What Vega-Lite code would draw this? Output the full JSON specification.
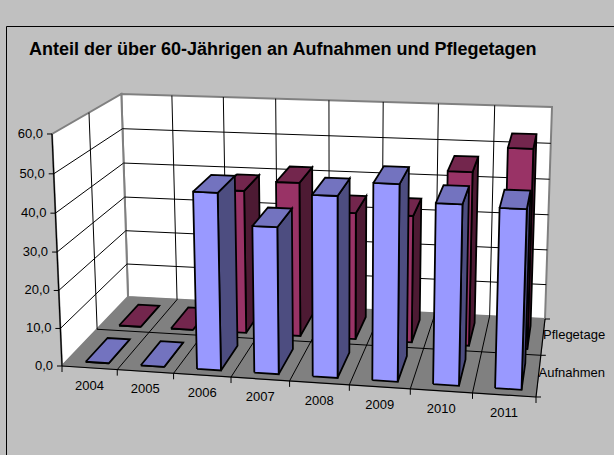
{
"$schema":"https://vega.github.io/schema/vega-lite/v6.json",
"width":614,"height":455,"padding":0,"autosize":"none","background":"#c0c0c0",
"view":{"stroke":null},
"title":{"text":"Anteil der über 60-Jährigen an Aufnahmen und Pflegetagen","anchor":"start","frame":"group","dx":29,"dy":73,"offset":0,"baseline":"alphabetic","font":"Liberation Sans","fontSize":18,"fontWeight":"bold","color":"#000000"},
"datasets":{
"bars":[
{"year":2004,"series":"Aufnahmen","value":0},{"year":2005,"series":"Aufnahmen","value":0},{"year":2006,"series":"Aufnahmen","value":46},{"year":2007,"series":"Aufnahmen","value":38},{"year":2008,"series":"Aufnahmen","value":46.5},{"year":2009,"series":"Aufnahmen","value":50.1},{"year":2010,"series":"Aufnahmen","value":45.8},{"year":2011,"series":"Aufnahmen","value":45.3},
{"year":2004,"series":"Pflegetage","value":0},{"year":2005,"series":"Pflegetage","value":0},{"year":2006,"series":"Pflegetage","value":39.5},{"year":2007,"series":"Pflegetage","value":42.3},{"year":2008,"series":"Pflegetage","value":34.8},{"year":2009,"series":"Pflegetage","value":34.7},{"year":2010,"series":"Pflegetage","value":47},{"year":2011,"series":"Pflegetage","value":53.7}],
"frame":[
{"part":"back","kind":"wall","n":0,"u":0,"w":2,"v":0},{"part":"back","kind":"wall","n":1,"u":8,"w":2,"v":0},{"part":"back","kind":"wall","n":2,"u":8,"w":2,"v":60},{"part":"back","kind":"wall","n":3,"u":0,"w":2,"v":60},{"part":"back","kind":"wall","n":4,"u":0,"w":2,"v":0},
{"part":"left","kind":"wall","n":0,"u":0,"w":0,"v":0},{"part":"left","kind":"wall","n":1,"u":0,"w":2,"v":0},{"part":"left","kind":"wall","n":2,"u":0,"w":2,"v":60},{"part":"left","kind":"wall","n":3,"u":0,"w":0,"v":60},{"part":"left","kind":"wall","n":4,"u":0,"w":0,"v":0},
{"part":"floor","kind":"floor","n":0,"u":0,"w":0,"v":0},{"part":"floor","kind":"floor","n":1,"u":8,"w":0,"v":0},{"part":"floor","kind":"floor","n":2,"u":8,"w":2,"v":0},{"part":"floor","kind":"floor","n":3,"u":0,"w":2,"v":0},{"part":"floor","kind":"floor","n":4,"u":0,"w":0,"v":0},
{"part":"h10","kind":"grid","n":0,"u":0,"w":0,"v":10},{"part":"h10","kind":"grid","n":1,"u":0,"w":2,"v":10},{"part":"h10","kind":"grid","n":2,"u":8,"w":2,"v":10},
{"part":"h20","kind":"grid","n":0,"u":0,"w":0,"v":20},{"part":"h20","kind":"grid","n":1,"u":0,"w":2,"v":20},{"part":"h20","kind":"grid","n":2,"u":8,"w":2,"v":20},
{"part":"h30","kind":"grid","n":0,"u":0,"w":0,"v":30},{"part":"h30","kind":"grid","n":1,"u":0,"w":2,"v":30},{"part":"h30","kind":"grid","n":2,"u":8,"w":2,"v":30},
{"part":"h40","kind":"grid","n":0,"u":0,"w":0,"v":40},{"part":"h40","kind":"grid","n":1,"u":0,"w":2,"v":40},{"part":"h40","kind":"grid","n":2,"u":8,"w":2,"v":40},
{"part":"h50","kind":"grid","n":0,"u":0,"w":0,"v":50},{"part":"h50","kind":"grid","n":1,"u":0,"w":2,"v":50},{"part":"h50","kind":"grid","n":2,"u":8,"w":2,"v":50},
{"part":"y1","kind":"grid","n":0,"u":1,"w":0,"v":0},{"part":"y1","kind":"grid","n":1,"u":1,"w":2,"v":0},{"part":"y1","kind":"grid","n":2,"u":1,"w":2,"v":60},
{"part":"y2","kind":"grid","n":0,"u":2,"w":0,"v":0},{"part":"y2","kind":"grid","n":1,"u":2,"w":2,"v":0},{"part":"y2","kind":"grid","n":2,"u":2,"w":2,"v":60},
{"part":"y3","kind":"grid","n":0,"u":3,"w":0,"v":0},{"part":"y3","kind":"grid","n":1,"u":3,"w":2,"v":0},{"part":"y3","kind":"grid","n":2,"u":3,"w":2,"v":60},
{"part":"y4","kind":"grid","n":0,"u":4,"w":0,"v":0},{"part":"y4","kind":"grid","n":1,"u":4,"w":2,"v":0},{"part":"y4","kind":"grid","n":2,"u":4,"w":2,"v":60},
{"part":"y5","kind":"grid","n":0,"u":5,"w":0,"v":0},{"part":"y5","kind":"grid","n":1,"u":5,"w":2,"v":0},{"part":"y5","kind":"grid","n":2,"u":5,"w":2,"v":60},
{"part":"y6","kind":"grid","n":0,"u":6,"w":0,"v":0},{"part":"y6","kind":"grid","n":1,"u":6,"w":2,"v":0},{"part":"y6","kind":"grid","n":2,"u":6,"w":2,"v":60},
{"part":"y7","kind":"grid","n":0,"u":7,"w":0,"v":0},{"part":"y7","kind":"grid","n":1,"u":7,"w":2,"v":0},{"part":"y7","kind":"grid","n":2,"u":7,"w":2,"v":60},
{"part":"mid","kind":"grid","n":0,"u":0,"w":1,"v":60},{"part":"mid","kind":"grid","n":1,"u":0,"w":1,"v":0},{"part":"mid","kind":"grid","n":2,"u":8,"w":1,"v":0},
{"part":"axv","kind":"axis","n":0,"u":0,"w":0,"v":0},{"part":"axv","kind":"axis","n":1,"u":0,"w":0,"v":60},
{"part":"axu","kind":"axis","n":0,"u":0,"w":0,"v":0},{"part":"axu","kind":"axis","n":1,"u":8,"w":0,"v":0},
{"part":"axw","kind":"axis","n":0,"u":8,"w":0,"v":0},{"part":"axw","kind":"axis","n":1,"u":8,"w":2,"v":0}],
"ticks":[
{"axis":"value","u":0,"w":0,"v":0},{"axis":"value","u":0,"w":0,"v":10},{"axis":"value","u":0,"w":0,"v":20},{"axis":"value","u":0,"w":0,"v":30},{"axis":"value","u":0,"w":0,"v":40},{"axis":"value","u":0,"w":0,"v":50},{"axis":"value","u":0,"w":0,"v":60},
{"axis":"year","u":0,"w":0,"v":0},{"axis":"year","u":1,"w":0,"v":0},{"axis":"year","u":2,"w":0,"v":0},{"axis":"year","u":3,"w":0,"v":0},{"axis":"year","u":4,"w":0,"v":0},{"axis":"year","u":5,"w":0,"v":0},{"axis":"year","u":6,"w":0,"v":0},{"axis":"year","u":7,"w":0,"v":0},{"axis":"year","u":8,"w":0,"v":0},
{"axis":"series","u":8,"w":0,"v":0},{"axis":"series","u":8,"w":1,"v":0},{"axis":"series","u":8,"w":2,"v":0}],
"labels":[
{"axis":"value","u":0,"w":0,"v":0,"label":"0,0"},{"axis":"value","u":0,"w":0,"v":10,"label":"10,0"},{"axis":"value","u":0,"w":0,"v":20,"label":"20,0"},{"axis":"value","u":0,"w":0,"v":30,"label":"30,0"},{"axis":"value","u":0,"w":0,"v":40,"label":"40,0"},{"axis":"value","u":0,"w":0,"v":50,"label":"50,0"},{"axis":"value","u":0,"w":0,"v":60,"label":"60,0"},
{"axis":"year","u":0.5,"w":0,"v":0,"label":"2004"},{"axis":"year","u":1.5,"w":0,"v":0,"label":"2005"},{"axis":"year","u":2.5,"w":0,"v":0,"label":"2006"},{"axis":"year","u":3.5,"w":0,"v":0,"label":"2007"},{"axis":"year","u":4.5,"w":0,"v":0,"label":"2008"},{"axis":"year","u":5.5,"w":0,"v":0,"label":"2009"},{"axis":"year","u":6.5,"w":0,"v":0,"label":"2010"},{"axis":"year","u":7.5,"w":0,"v":0,"label":"2011"},
{"axis":"series","u":8,"w":0.5,"v":0,"label":"Aufnahmen"},{"axis":"series","u":8,"w":1.5,"v":0,"label":"Pflegetage"}],
"border":[{"x0":6.5,"y0":26.5,"x1":6.5,"y1":455},{"x0":6.5,"y0":26.5,"x1":614,"y1":26.5}]
},
"encoding":{
"x":{"field":"px","type":"quantitative","scale":{"domain":[0,614],"zero":false,"nice":false},"axis":null},
"y":{"field":"py","type":"quantitative","scale":{"domain":[455,0],"zero":false,"nice":false},"axis":null}
},
"layer":[
{"data":{"name":"frame"},
"transform":[
{"calculate":"datum.u/8","as":"s"},{"calculate":"datum.w/2","as":"t"},{"calculate":"datum.v/60","as":"r"},
{"calculate":"1-0.07637*datum.s+0.13834*datum.t-0.03484*datum.r","as":"den"},
{"calculate":"(433.07*datum.s+83.71*datum.t-11.81*datum.r+62)/datum.den","as":"px"},
{"calculate":"(0.68*datum.s-27.91*datum.t+(-236.67+5.53*datum.s+2.27*datum.t)*datum.r+366)/datum.den","as":"py"}],
"layer":[
{"transform":[{"filter":"datum.kind=='wall'"}],"mark":{"type":"line","fill":"#ffffff","stroke":"#808080","strokeWidth":2,"strokeJoin":"miter"},"encoding":{"detail":{"field":"part"},"order":{"field":"n"}}},
{"transform":[{"filter":"datum.kind=='floor'"}],"mark":{"type":"line","fill":"#808080","stroke":"#808080","strokeWidth":1},"encoding":{"detail":{"field":"part"},"order":{"field":"n"}}},
{"transform":[{"filter":"datum.kind=='grid'"}],"mark":{"type":"line","stroke":"#000000","strokeWidth":1},"encoding":{"detail":{"field":"part"},"order":{"field":"n"}}},
{"transform":[{"filter":"datum.kind=='axis'"}],"mark":{"type":"line","stroke":"#000000","strokeWidth":1.2},"encoding":{"detail":{"field":"part"},"order":{"field":"n"}}}
]},
{"data":{"name":"bars"},
"transform":[
{"calculate":"['side','front','top']","as":"face"},{"flatten":["face"]},
{"calculate":"[0,1,2,3,4]","as":"n"},{"flatten":["n"]},
{"calculate":"datum.face=='side'?1:[0,1,1,0,0][datum.n]","as":"ua"},
{"calculate":"datum.face=='front'?0:datum.face=='side'?[0,1,1,0,0][datum.n]:[0,0,1,1,0][datum.n]","as":"wa"},
{"calculate":"datum.face=='top'?1:[0,0,1,1,0][datum.n]","as":"va"},
{"calculate":"(datum.year-2004+0.34+0.42*datum.ua)/8","as":"s"},
{"calculate":"((datum.series=='Aufnahmen'?0:1)+0.14+0.64*datum.wa)/2","as":"t"},
{"calculate":"datum.value*datum.va/60","as":"r"},
{"calculate":"1-0.07637*datum.s+0.13834*datum.t-0.03484*datum.r","as":"den"},
{"calculate":"(433.07*datum.s+83.71*datum.t-11.81*datum.r+62)/datum.den","as":"px"},
{"calculate":"(0.68*datum.s-27.91*datum.t+(-236.67+5.53*datum.s+2.27*datum.t)*datum.r+366)/datum.den","as":"py"}],
"layer":[
{"transform":[{"filter":"datum.series=='Pflegetage'&&datum.face=='side'"}],"mark":{"type":"line","fill":"#4d1a33","stroke":"#000000","strokeWidth":1.8,"strokeJoin":"miter"},"encoding":{"detail":{"field":"year"},"order":{"field":"n"}}},
{"transform":[{"filter":"datum.series=='Pflegetage'&&datum.face=='front'"}],"mark":{"type":"line","fill":"#993366","stroke":"#000000","strokeWidth":1.8,"strokeJoin":"miter"},"encoding":{"detail":{"field":"year"},"order":{"field":"n"}}},
{"transform":[{"filter":"datum.series=='Pflegetage'&&datum.face=='top'"}],"mark":{"type":"line","fill":"#73264d","stroke":"#000000","strokeWidth":1.8,"strokeJoin":"miter"},"encoding":{"detail":{"field":"year"},"order":{"field":"n"}}},
{"transform":[{"filter":"datum.series=='Aufnahmen'&&datum.face=='side'"}],"mark":{"type":"line","fill":"#4d4d80","stroke":"#000000","strokeWidth":1.8,"strokeJoin":"miter"},"encoding":{"detail":{"field":"year"},"order":{"field":"n"}}},
{"transform":[{"filter":"datum.series=='Aufnahmen'&&datum.face=='front'"}],"mark":{"type":"line","fill":"#9999ff","stroke":"#000000","strokeWidth":1.8,"strokeJoin":"miter"},"encoding":{"detail":{"field":"year"},"order":{"field":"n"}}},
{"transform":[{"filter":"datum.series=='Aufnahmen'&&datum.face=='top'"}],"mark":{"type":"line","fill":"#7373bf","stroke":"#000000","strokeWidth":1.8,"strokeJoin":"miter"},"encoding":{"detail":{"field":"year"},"order":{"field":"n"}}}
]},
{"data":{"name":"ticks"},
"transform":[
{"calculate":"datum.u/8","as":"s"},{"calculate":"datum.w/2","as":"t"},{"calculate":"datum.v/60","as":"r"},
{"calculate":"1-0.07637*datum.s+0.13834*datum.t-0.03484*datum.r","as":"den"},
{"calculate":"(433.07*datum.s+83.71*datum.t-11.81*datum.r+62)/datum.den","as":"px"},
{"calculate":"(0.68*datum.s-27.91*datum.t+(-236.67+5.53*datum.s+2.27*datum.t)*datum.r+366)/datum.den","as":"py"},
{"calculate":"datum.px+(datum.axis=='value'?-5:datum.axis=='series'?5:0)","as":"px2"},
{"calculate":"datum.py+(datum.axis=='year'?6:0)","as":"py2"}],
"mark":{"type":"rule","stroke":"#000000","strokeWidth":1},
"encoding":{"x2":{"field":"px2"},"y2":{"field":"py2"}}},
{"data":{"name":"labels"},
"transform":[
{"calculate":"datum.u/8","as":"s"},{"calculate":"datum.w/2","as":"t"},{"calculate":"datum.v/60","as":"r"},
{"calculate":"1-0.07637*datum.s+0.13834*datum.t-0.03484*datum.r","as":"den"},
{"calculate":"(433.07*datum.s+83.71*datum.t-11.81*datum.r+62)/datum.den","as":"px"},
{"calculate":"(0.68*datum.s-27.91*datum.t+(-236.67+5.53*datum.s+2.27*datum.t)*datum.r+366)/datum.den","as":"py"}],
"layer":[
{"transform":[{"filter":"datum.axis=='value'"}],"mark":{"type":"text","align":"right","baseline":"middle","dx":-9,"font":"Liberation Sans","fontSize":13,"color":"#000000"},"encoding":{"text":{"field":"label"}}},
{"transform":[{"filter":"datum.axis=='year'"}],"mark":{"type":"text","align":"center","baseline":"middle","dy":18,"font":"Liberation Sans","fontSize":13,"color":"#000000"},"encoding":{"text":{"field":"label"}}},
{"transform":[{"filter":"datum.axis=='series'"}],"mark":{"type":"text","align":"left","baseline":"middle","dy":-2,"font":"Liberation Sans","fontSize":13,"color":"#000000"},"encoding":{"text":{"field":"label"}}}
]},
{"data":{"name":"border"},"mark":{"type":"rule","stroke":"#000000","strokeWidth":1},"encoding":{"x":{"field":"x0","type":"quantitative"},"y":{"field":"y0","type":"quantitative"},"x2":{"field":"x1"},"y2":{"field":"y1"}}}
]
}
